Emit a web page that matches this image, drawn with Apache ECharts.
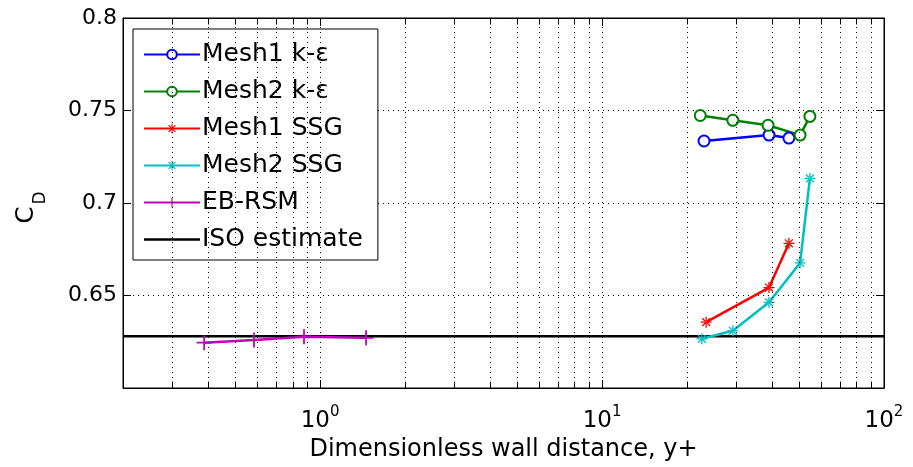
<!DOCTYPE html>
<html>
<head>
<meta charset="utf-8">
<script src="https://cdn.jsdelivr.net/npm/echarts@6/dist/echarts.min.js"></script>
<style>
  html, body { margin: 0; padding: 0; background: #fff; }
  #view1 { width: 913px; height: 467px; }
</style>
</head>
<body>
<div id="view1"></div>
<script>
// values
var mesh1KeX = [23.0, 39.1, 46.0];
var mesh1KeY = [0.7335, 0.7367, 0.7351];
var mesh2KeX = [22.3, 29.1, 38.8, 50.4, 54.6];
var mesh2KeY = [0.7473, 0.7447, 0.7420, 0.7367, 0.7468];
var mesh1SsgX = [23.4, 39.1, 46.0];
var mesh1SsgY = [0.6356, 0.6543, 0.6782];
var mesh2SsgX = [22.6, 29.1, 39.1, 50.4, 54.6];
var mesh2SsgY = [0.6266, 0.6309, 0.6463, 0.6676, 0.7133];
var ebRsmX = [0.388, 0.583, 0.877, 1.456];
var ebRsmY = [0.6245, 0.6260, 0.6277, 0.6271];
var isoX = [0.2, 100];
var isoY = [0.628, 0.628];
var minorX = [0.3, 0.4, 0.5, 0.6, 0.7, 0.8, 0.9, 2, 3, 4, 5, 6, 7, 8, 9, 20, 30, 40, 50, 60, 70, 80, 90];
var majorX = [1, 10];

function pairs(xs, ys) {
  return xs.map(function (x, i) { return [x, ys[i]]; });
}

var FONT = '"DejaVu Sans", sans-serif';
var plusSym = 'path://M-0.12,-1H0.12V-0.12H1V0.12H0.12V1H-0.12V0.12H-1V-0.12H-0.12Z';
var starSym = 'path://M-0.12,-1H0.12V1H-0.12Z M-1,-0.12H1V0.12H-1Z M-0.8,-0.63L0.63,0.8L0.8,0.63L-0.63,-0.8Z M-0.8,0.63L0.63,-0.8L0.8,-0.63L-0.63,0.8Z';
var lineIcon = 'path://M0,0L0.01,0Z M0,4.7H56V7.3H0Z M0,12L0.01,12Z';

function lineSeries(name, color, data, symbol, size) {
  return {
    name: name,
    type: 'line',
    data: data,
    symbol: symbol,
    symbolSize: size,
    showSymbol: true,
    color: color,
    lineStyle: { width: 2.5, color: color },
    itemStyle: { color: color, borderColor: color, borderWidth: symbol === 'emptyCircle' ? 2 : 0 },
    emphasis: { disabled: true },
    animation: false,
    z: 3
  };
}

var tickLine = { color: '#000', type: 'solid', width: 1 };
var minorTicks = [];
minorX.forEach(function (v) {
  minorTicks.push([{ coord: [v, 0.6] }, { coord: [v, 0.6035] }]);
  minorTicks.push([{ coord: [v, 0.8] }, { coord: [v, 0.7965] }]);
});

var option = {
  backgroundColor: '#fff',
  textStyle: { fontFamily: FONT },
  grid: {
    left: 123,
    right: 29,
    top: 18,
    bottom: 72,
    show: true,
    borderColor: '#000',
    borderWidth: 1,
    backgroundColor: '#fff'
  },
  legend: {
    left: 133,
    top: 29,
    orient: 'vertical',
    backgroundColor: '#fff',
    borderColor: '#000',
    borderWidth: 1,
    borderRadius: 0,
    padding: [13, 15, 8, 10],
    itemWidth: 56,
    itemHeight: 12,
    itemGap: 12,
    textStyle: { fontSize: 25, color: '#000', fontFamily: FONT, padding: [0, 0, 0, -3] },
    data: [
      'Mesh1 k-ε', 'Mesh2 k-ε', 'Mesh1 SSG', 'Mesh2 SSG', 'EB-RSM',
      { name: 'ISO estimate', icon: lineIcon }
    ]
  },
  graphic: [{
    type: 'group',
    x: 26,
    y: 215,
    rotation: Math.PI / 2,
    z: 10,
    children: [{
      type: 'text',
      x: 0,
      y: 0,
      style: {
        text: 'C',
        fontSize: 25,
        fontFamily: FONT,
        fill: '#000',
        align: 'center',
        verticalAlign: 'middle'
      }
    }, {
      type: 'text',
      x: 17,
      y: 15,
      style: {
        text: 'D',
        fontSize: 17,
        fontFamily: FONT,
        fill: '#000',
        align: 'center',
        verticalAlign: 'middle'
      }
    }]
  }],
  xAxis: [{
    type: 'log',
    logBase: 10,
    min: 0.2,
    max: 100,
    name: 'Dimensionless wall distance, y+',
    nameLocation: 'middle',
    nameGap: 50,
    nameTextStyle: { fontSize: 24, color: '#000', fontFamily: FONT },
    axisLine: { onZero: false, lineStyle: { color: '#000', width: 1 } },
    axisTick: { inside: true, length: 8, lineStyle: { color: '#000' } },
    splitLine: { show: false },
    axisLabel: {
      color: '#000',
      margin: 17,
      showMinLabel: false,
      formatter: function (v) {
        var e = Math.round(Math.log10(v));
        if (Math.abs(Math.log10(v) - e) > 1e-6) return '';
        return '{b|10}{s|' + e + '}';
      },
      rich: {
        b: { fontSize: 23, color: '#000', fontFamily: FONT },
        s: { fontSize: 15, color: '#000', fontFamily: FONT, padding: [0, 0, 18, 0] }
      }
    }
  }, {
    type: 'log',
    logBase: 10,
    min: 0.2,
    max: 100,
    position: 'top',
    axisLine: { onZero: false, lineStyle: { color: '#000', width: 1 } },
    axisTick: { inside: true, length: 8, lineStyle: { color: '#000' } },
    axisLabel: { show: false },
    splitLine: { show: false }
  }],
  yAxis: [{
    type: 'value',
    min: 0.6,
    max: 0.8,
    interval: 0.05,
    axisLine: { lineStyle: { color: '#000', width: 1 } },
    axisTick: { inside: true, length: 8, lineStyle: { color: '#000' } },
    axisLabel: {
      color: '#000',
      fontSize: 22,
      fontFamily: FONT,
      margin: 6,
      showMinLabel: false,
      formatter: function (v) { return String(+v.toFixed(2)); }
    },
    splitLine: { show: true, lineStyle: { color: '#000', type: [1, 4], width: 1 } }
  }, {
    type: 'value',
    min: 0.6,
    max: 0.8,
    interval: 0.05,
    position: 'right',
    axisLine: { show: true, lineStyle: { color: '#000', width: 1 } },
    axisTick: { show: true, inside: true, length: 8, lineStyle: { color: '#000' } },
    axisLabel: { show: false },
    splitLine: { show: false }
  }],
  series: [
    lineSeries('Mesh1 k-ε', '#0000ff', pairs(mesh1KeX, mesh1KeY), 'emptyCircle', 11),
    lineSeries('Mesh2 k-ε', '#008000', pairs(mesh2KeX, mesh2KeY), 'emptyCircle', 11),
    lineSeries('Mesh1 SSG', '#ff0000', pairs(mesh1SsgX, mesh1SsgY), starSym, 11),
    lineSeries('Mesh2 SSG', '#00bfbf', pairs(mesh2SsgX, mesh2SsgY), starSym, 11),
    lineSeries('EB-RSM', '#bf00bf', pairs(ebRsmX, ebRsmY), plusSym, 15),
    {
      name: 'ISO estimate',
      type: 'line',
      data: pairs(isoX, isoY),
      symbol: 'none',
      color: '#000',
      lineStyle: { width: 2.5, color: '#000' },
      emphasis: { disabled: true },
      animation: false,
      z: 2,
      markLine: {
        silent: true,
        symbol: 'none',
        label: { show: false },
        animation: false,
        lineStyle: { color: '#000', type: [1, 4], width: 1 },
        data: minorX.concat(majorX).map(function (v) { return { xAxis: v }; })
      }
    },
    {
      name: 'minor ticks',
      type: 'line',
      data: [],
      silent: true,
      animation: false,
      markLine: {
        silent: true,
        symbol: 'none',
        label: { show: false },
        animation: false,
        lineStyle: tickLine,
        data: minorTicks
      }
    }
  ]
};

echarts.init(document.getElementById('view1')).setOption(option);
</script>
</body>
</html>
